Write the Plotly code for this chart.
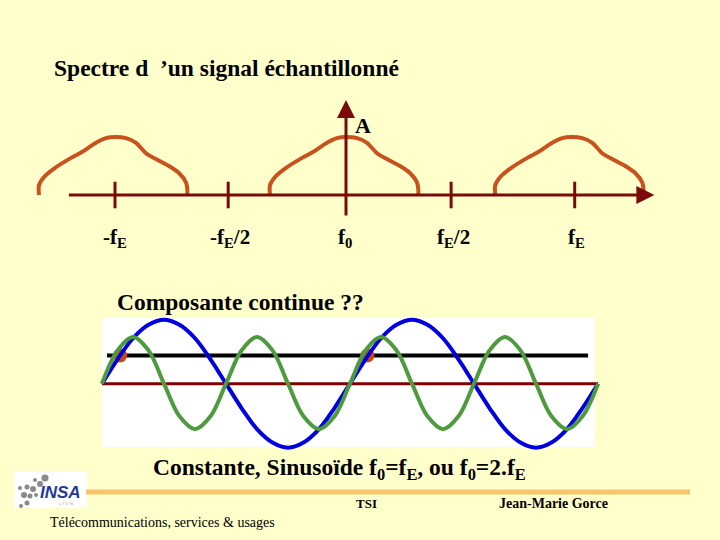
import plotly.graph_objects as go

# ---- spectrum (frequencies in units of fE, amplitude normalised) ----
tick_freqs = [-1.0, -0.51, 0.0, 0.455, 0.99]
tick_labels = ["-f<sub>E</sub>", "-f<sub>E</sub>/2", "f<sub>0</sub>", "f<sub>E</sub>/2", "f<sub>E</sub>"]
hump_centers = [-1.0, 0.0, 0.975]
hump_df = [-0.329, -0.329, -0.307, -0.255, -0.190, -0.143, -0.091, -0.039, 0.0,
           0.048, 0.091, 0.134, 0.177, 0.234, 0.277, 0.307, 0.313, 0.313]
hump_amp = [0.0, 0.17, 0.31, 0.48, 0.64, 0.74, 0.88, 0.98, 1.0,
            0.98, 0.90, 0.72, 0.62, 0.50, 0.38, 0.22, 0.10, 0.0]

# ---- time signals (time in units of TE) ----
t_sig = [0, .0625, .125, .1875, .25, .3125, .375, .4375, .5, .5625, .625, .6875,
         .75, .8125, .875, .9375, 1, 1.0625, 1.125, 1.1875, 1.25, 1.3125, 1.375,
         1.4375, 1.5, 1.5625, 1.625, 1.6875, 1.75, 1.8125, 1.875, 1.9375, 2]
sin_f0 = [0, .38, .71, .92, 1, .92, .71, .38, 0, -.38, -.71, -.92, -1, -.92, -.71, -.38,
          0, .38, .71, .92, 1, .92, .71, .38, 0, -.38, -.71, -.92, -1, -.92, -.71, -.38, 0]
sin_2f0 = [0, .52, .73, .52, 0, -.51, -.71, -.51, 0, .52, .73, .52, 0, -.51, -.71, -.51,
           0, .52, .73, .52, 0, -.51, -.71, -.51, 0, .52, .73, .52, 0, -.51, -.71, -.51, 0]
const_t = [0.02, 1.96]
const_val = [0.44, 0.44]
sample_t = [0.073, 1.07]
sample_val = [0.44, 0.44]

BG = "#FFFFCC"
MAROON = "#7B0A0A"
HUMP = "#C9521C"
SERIF = "Liberation Serif"


def px(x):
    return x / 720


def py(y):
    return 1 - y / 540


fig = go.Figure()

# humps
hx, hy = [], []
for c in hump_centers:
    hx += [c + d for d in hump_df] + [None]
    hy += hump_amp + [None]
fig.add_trace(go.Scatter(x=hx, y=hy, mode="lines", line=dict(color=HUMP, width=4, shape="spline", smoothing=0.8),
                         hoverinfo="skip", connectgaps=False))

# ticks on frequency axis
fig.add_trace(go.Scatter(x=tick_freqs[:2] + tick_freqs[3:], y=[0] * 4, mode="markers",
                         marker=dict(symbol="line-ns", size=19, line=dict(color=MAROON, width=3)),
                         hoverinfo="skip"))

# signal panel
fig.add_trace(go.Scatter(x=[0, 2], y=[0, 0], mode="lines", line=dict(color="#800000", width=3),
                         xaxis="x2", yaxis="y2", hoverinfo="skip"))
fig.add_trace(go.Scatter(x=const_t, y=const_val, mode="lines", line=dict(color="black", width=4),
                         xaxis="x2", yaxis="y2", hoverinfo="skip"))
fig.add_trace(go.Scatter(x=sample_t, y=sample_val, mode="markers",
                         marker=dict(color="#D0460F", size=14), xaxis="x2", yaxis="y2", hoverinfo="skip"))
fig.add_trace(go.Scatter(x=t_sig, y=sin_f0, mode="lines", line=dict(color="#0000E0", width=4, shape="spline"),
                         xaxis="x2", yaxis="y2", hoverinfo="skip"))
fig.add_trace(go.Scatter(x=t_sig, y=sin_2f0, mode="lines", line=dict(color="#4E9A3E", width=4, shape="spline"),
                         xaxis="x2", yaxis="y2", hoverinfo="skip"))

annotations = []
# frequency axis arrow and vertical axis arrow
annotations.append(dict(x=1.335, y=0, ax=-1.206, ay=0, xref="x", yref="y", axref="x", ayref="y",
                        showarrow=True, arrowhead=2, arrowsize=1.2, arrowwidth=3, arrowcolor=MAROON, text=""))
annotations.append(dict(x=0, y=1.64, ax=0, ay=-0.38, xref="x", yref="y", axref="x", ayref="y",
                        showarrow=True, arrowhead=2, arrowsize=1.2, arrowwidth=3, arrowcolor=MAROON, text=""))
annotations.append(dict(x=0.075, y=1.2, xref="x", yref="y", text="<b>A</b>", showarrow=False,
                        font=dict(family=SERIF, size=22, color="black")))
label_shift = [0, 2, -1, 2, 2]
for f, lab, s in zip(tick_freqs, tick_labels, label_shift):
    annotations.append(dict(x=f, y=py(238), xref="x", yref="paper", xshift=s, text="<b>" + lab + "</b>",
                            showarrow=False, font=dict(family=SERIF, size=21, color="black")))

texts = [
    (52, 68, "<b>Spectre d  ’un signal échantillonné</b>", 23.5, "left"),
    (115, 302, "<b>Composante continue ??</b>", 23.5, "left"),
    (151, 469, "<b>Constante, Sinusoïde f<sub>0</sub>=f<sub>E</sub>, ou f<sub>0</sub>=2.f<sub>E</sub></b>", 23.5, "left"),
    (366, 503, "<b>TSI</b>", 13, "center"),
    (553, 503, "<b>Jean-Marie Gorce</b>", 14, "center"),
    (48, 522, "Télécommunications, services &amp; usages", 14, "left"),
]
for x, y, t, s, anc in texts:
    annotations.append(dict(x=px(x), y=py(y), xref="paper", yref="paper", text=t, showarrow=False,
                            xanchor=anc, yanchor="middle", font=dict(family=SERIF, size=s, color="black")))

annotations.append(dict(x=px(60), y=py(492), xref="paper", yref="paper", text="<b><i>INSA</i></b>",
                        xanchor="center", yanchor="middle", showarrow=False,
                        font=dict(family="Liberation Sans", size=17, color="#1F3A96")))
annotations.append(dict(x=px(66), y=py(503), xref="paper", yref="paper", text="L Y O N",
                        xanchor="center", yanchor="middle", showarrow=False,
                        font=dict(family="Liberation Sans", size=4, color="#A0A0A0")))

shapes = [
    dict(type="rect", xref="x2", yref="y2", x0=0, x1=1.988, y0=-0.99, y1=1.04,
         fillcolor="white", line=dict(width=0), layer="below"),
    dict(type="line", xref="paper", yref="paper", x0=px(86), x1=px(690), y0=py(492), y1=py(492),
         line=dict(color="#F5C46C", width=5)),
    dict(type="rect", xref="paper", yref="paper", x0=px(14), x1=px(87), y0=py(471), y1=py(508),
         fillcolor="white", line=dict(width=0), layer="below"),
]
logo_dots = [(45, 478, 3.5), (40, 484, 3), (35, 480, 2), (33, 489, 3), (27, 487, 2.5), (20, 488, 2),
             (24, 495, 3), (30, 496, 2.5), (27, 503, 2.5), (21, 506, 2), (36, 495, 2)]
for x, y, r in logo_dots:
    shapes.append(dict(type="circle", xref="paper", yref="paper", x0=px(x - r), x1=px(x + r),
                       y0=py(y + r), y1=py(y - r), fillcolor="#8A8A8A", line=dict(width=0)))

fig.update_layout(
    width=720, height=540,
    margin=dict(l=0, r=0, t=0, b=0),
    paper_bgcolor=BG, plot_bgcolor="rgba(0,0,0,0)",
    showlegend=False,
    xaxis=dict(domain=[0, 1], range=[-346 / 231, 374 / 231], visible=False, fixedrange=True),
    yaxis=dict(domain=[0, 1], range=[-345 / 58, 195 / 58], visible=False, fixedrange=True),
    xaxis2=dict(domain=[px(89.6), px(610.4)], range=[-0.05, 2.05], visible=False, anchor="y2"),
    yaxis2=dict(domain=[py(460.5), py(306.9)], range=[-1.2, 1.2], visible=False, anchor="x2"),
    annotations=annotations,
    shapes=shapes,
)

fig.write_html("out.html", config={"displayModeBar": False},
               post_script="document.body.style.margin='0';document.body.style.overflow='hidden';"
                           "document.body.style.background='" + BG + "';")
